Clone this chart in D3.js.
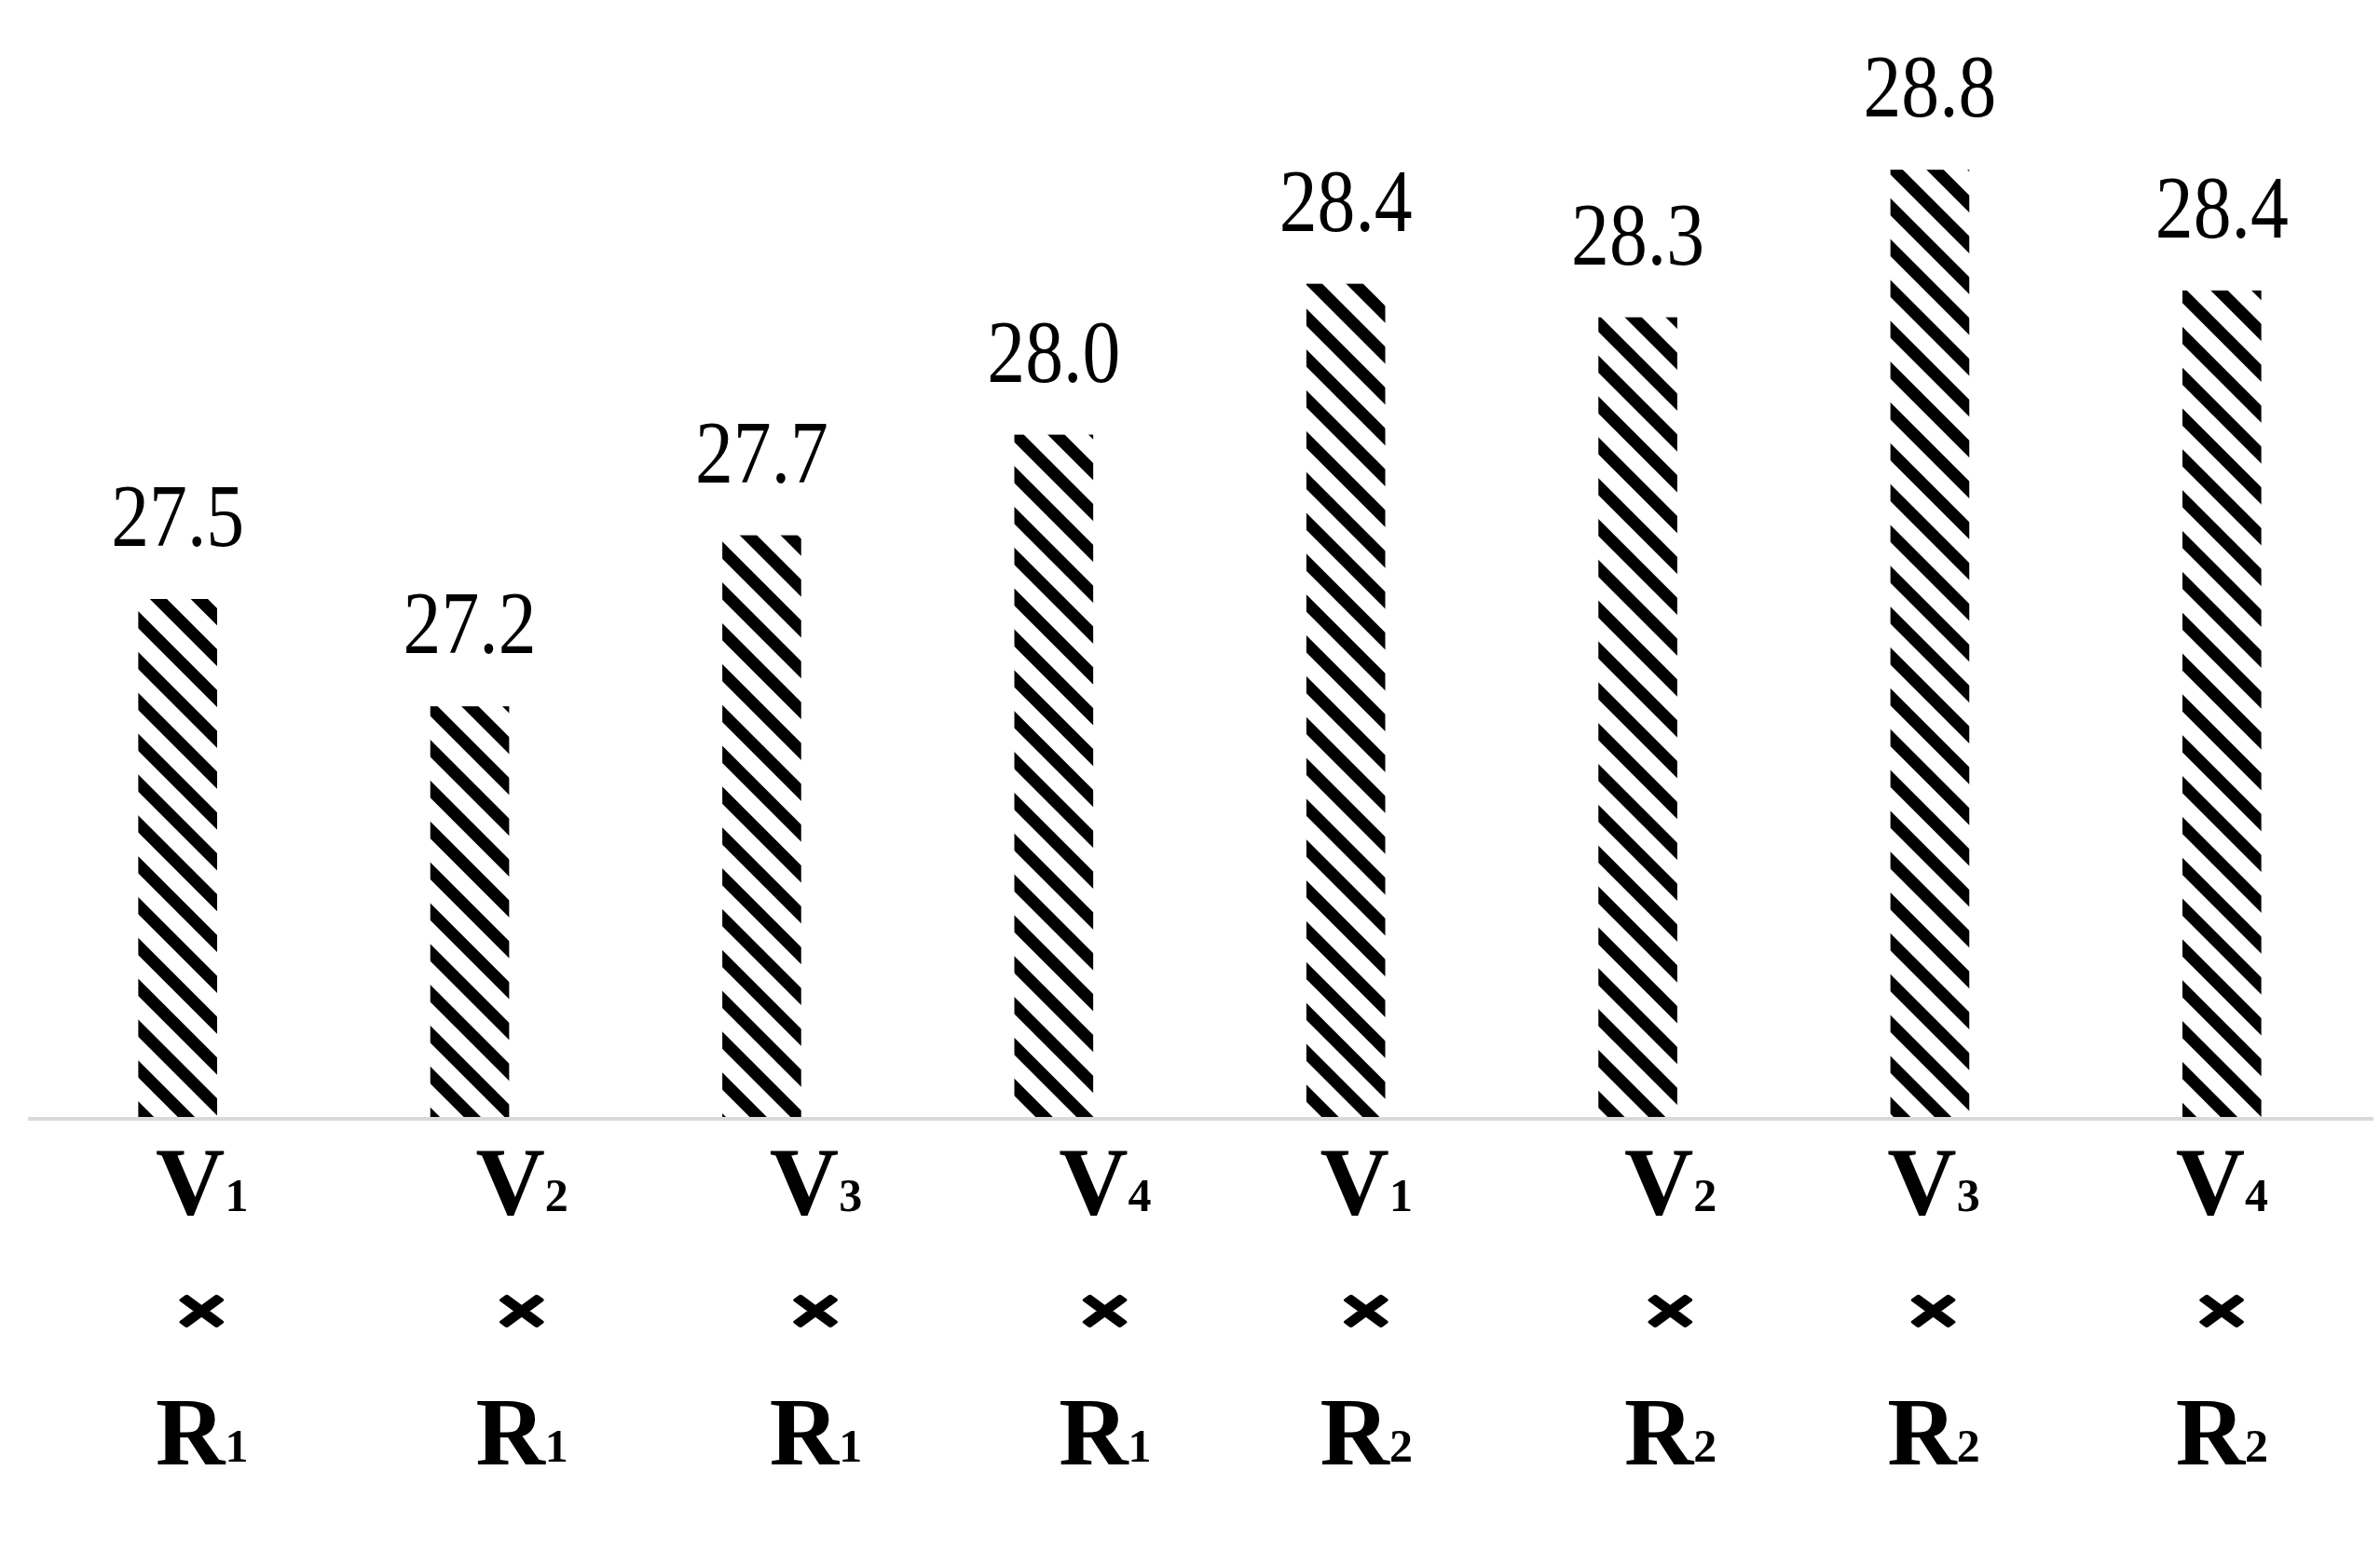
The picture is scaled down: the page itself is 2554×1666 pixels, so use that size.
<!DOCTYPE html>
<html>
<head>
<meta charset="utf-8">
<script src="https://cdn.jsdelivr.net/npm/d3@7"></script>
<style>
  html, body { margin: 0; padding: 0; background: #ffffff; }
  svg { display: block; }
</style>
</head>
<body>
<div id="chart"></div>
<script>
// ---- data ----
const varieties = ["V1", "V2", "V3", "V4", "V1", "V2", "V3", "V4"];
const rates     = ["R1", "R1", "R1", "R1", "R2", "R2", "R2", "R2"];
const values    = [27.48, 27.16, 27.67, 27.97, 28.42, 28.32, 28.76, 28.40];
const categories = varieties.map((v, i) => v + "×" + rates[i] + "#" + i);

// ---- layout ----
const W = 2554, H = 1666;
const baseY = 1201;
const labelDx = [26, 56, 58, 55, 22, 35, 4, 0]; // hand-placed category text nudges

const svg = d3.select("#chart").append("svg")
  .attr("width", W).attr("height", H)
  .attr("viewBox", `0 0 ${W} ${H}`);

svg.append("rect").attr("width", W).attr("height", H).attr("fill", "#fff");

const defs = svg.append("defs");
const pat = defs.append("pattern")
  .attr("id", "hatch")
  .attr("patternUnits", "userSpaceOnUse")
  .attr("width", 31).attr("height", 31)
  .attr("patternTransform", "rotate(-45)");
pat.append("rect").attr("x", 0).attr("y", 0).attr("width", 31).attr("height", 31).attr("fill", "#fff");
pat.append("rect").attr("x", 0).attr("y", 0).attr("width", 13).attr("height", 31).attr("fill", "#000");

const x = d3.scaleBand()
  .domain(categories)
  .range([34, 2541])
  .paddingInner(0.73)
  .paddingOuter(0.365);

const y = d3.scaleLinear()
  .domain([25.93, 29.0])
  .range([baseY, baseY - 3.07 * 360]);

// bars
svg.append("g").selectAll("rect")
  .data(values)
  .join("rect")
  .attr("x", (d, i) => x(categories[i]))
  .attr("width", x.bandwidth())
  .attr("y", d => y(d))
  .attr("height", d => baseY - y(d))
  .attr("fill", "url(#hatch)");

// axis line
svg.append("line")
  .attr("x1", 30).attr("x2", 2547)
  .attr("y1", baseY).attr("y2", baseY)
  .attr("stroke", "#d9d9d9").attr("stroke-width", 4);

// value labels
const fmt = d3.format(".1f");
svg.append("g").selectAll("text")
  .data(values)
  .join("text")
  .attr("transform", (d, i) => `translate(${x(categories[i]) + x.bandwidth() / 2},${y(d) - 57}) scale(0.86,1)`)
  .attr("text-anchor", "middle")
  .attr("font-family", "'Liberation Serif', 'Times New Roman', serif")
  .attr("font-size", 95)
  .attr("fill", "#000")
  .text(d => fmt(d));

// category labels (three lines: V, ×, R)
const serif = "'Liberation Serif', 'Times New Roman', serif";
const lab = svg.append("g").selectAll("g")
  .data(categories)
  .join("g")
  .attr("transform", (c, i) => `translate(${x(c) + x.bandwidth() / 2 + labelDx[i]},0)`);

function subLabel(sel, accessor, yBase) {
  const t = sel.append("text")
    .attr("y", yBase)
    .attr("text-anchor", "middle")
    .attr("font-family", serif)
    .attr("font-weight", "bold")
    .attr("font-size", 103)
    .attr("fill", "#000");
  t.append("tspan").text((c, i) => accessor(i).charAt(0));
  t.append("tspan").attr("font-size", 50).attr("dy", -3).text((c, i) => accessor(i).slice(1));
}
subLabel(lab, i => varieties[i], 1303);

lab.append("text")
  .attr("transform", "translate(0,1432) scale(1.1,0.8)")
  .attr("text-anchor", "middle")
  .attr("font-family", serif)
  .attr("font-weight", "bold")
  .attr("font-size", 92)
  .attr("fill", "#000")
  .attr("stroke", "#000")
  .attr("stroke-width", 5)
  .attr("stroke-linejoin", "round")
  .text("×");

subLabel(lab, i => rates[i], 1572);
</script>
</body>
</html>
